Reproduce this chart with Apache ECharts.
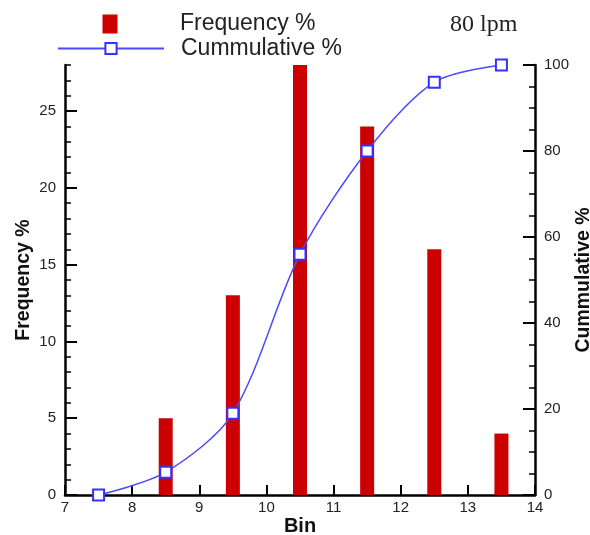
<!DOCTYPE html>
<html>
<head>
<meta charset="utf-8">
<script src="https://cdn.jsdelivr.net/npm/echarts@6/dist/echarts.min.js"></script>
<style>html,body{margin:0;padding:0;background:#fff}#c{width:590px;height:535px}</style>
</head>
<body>
<div id="c"></div>
<script>
var binCenters = [8.5, 9.5, 10.5, 11.5, 12.5, 13.5];
var frequency = [5, 13, 28, 24, 16, 4];
var cumBins = [7.5, 8.5, 9.5, 10.5, 11.5, 12.5, 13.5];
var cumulative = [0, 5.3, 19, 56, 80, 96, 100];
var xTicks = [7, 8, 9, 10, 11, 12, 13, 14];
var leftMajorTicks = [0, 5, 10, 15, 20, 25];
var rightMajorTicks = [0, 20, 40, 60, 80, 100];

var chart = echarts.init(document.getElementById('c'), null, {renderer: 'canvas'});
var axisFont = {fontFamily: 'Liberation Sans, Arial, sans-serif', fontSize: 15, color: '#222'};
var nameFont = {fontFamily: 'Liberation Sans, Arial, sans-serif', fontSize: 19.5, fontWeight: 'bold', color: '#111'};
var legendFont = {fontFamily: 'Liberation Sans, Arial, sans-serif', fontSize: 23, color: '#222', padding: [0, 0, 0, 12]};
var leftMinor = [];
for (var i = 0; i <= 28; i++) leftMinor.push(i);

chart.setOption({
  animation: false,
  title: {
    text: '80 lpm', left: 445, top: 8,
    textStyle: {fontFamily: 'Liberation Serif, Times New Roman, serif', fontSize: 24, fontWeight: 'normal', color: '#222'}
  },
  legend: [
    {
      orient: 'vertical', left: 52, top: 7.5, padding: 5, itemWidth: 106, itemHeight: 19,
      textStyle: legendFont,
      data: [{name: 'Frequency %', icon: 'path://M0,0L0,0.01M45.5,0H60.5V19H45.5ZM106,19L106,18.99'}]
    },
    {
      orient: 'vertical', left: 52, top: 32, padding: 5, itemWidth: 106, itemHeight: 14,
      textStyle: legendFont,
      data: [{name: 'Cummulative %'}]
    }
  ],
  grid: {left: 65, right: 55, top: 65, bottom: 40, outerBoundsMode: 'none', containLabel: false},
  xAxis: {
    type: 'value', min: 7, max: 14, interval: 1,
    name: 'Bin', nameLocation: 'middle', nameGap: 21, nameMoveOverlap: false,
    nameTextStyle: Object.assign({}, nameFont, {fontSize: 20}),
    axisLine: {show: true, onZero: false, lineStyle: {color: '#000', width: 2.5}},
    axisTick: {show: true, inside: true, length: 10, lineStyle: {color: '#000', width: 2}, customValues: xTicks},
    axisLabel: Object.assign({margin: 5, customValues: xTicks}, axisFont),
    splitLine: {show: false}
  },
  yAxis: [
    {
      type: 'value', position: 'left', min: 0, max: 28, interval: 5,
      name: 'Frequency %', nameLocation: 'middle', nameGap: 31, nameRotate: 90, nameMoveOverlap: false,
      nameTextStyle: nameFont,
      axisLine: {show: true, lineStyle: {color: '#000', width: 2.5}},
      axisTick: {show: true, inside: true, length: 12, lineStyle: {color: '#000', width: 2}, customValues: leftMajorTicks},
      axisLabel: Object.assign({margin: 9, customValues: leftMajorTicks}, axisFont),
      splitLine: {show: false}
    },
    {
      type: 'value', position: 'left', min: 0, max: 28, interval: 1,
      axisLine: {show: false},
      axisTick: {show: true, inside: true, length: 6, lineStyle: {color: '#000', width: 1.5}, customValues: leftMinor},
      axisLabel: {show: false},
      splitLine: {show: false}
    },
    {
      type: 'value', position: 'right', min: 0, max: 100, interval: 20,
      name: 'Cummulative %', nameLocation: 'middle', nameGap: 39, nameRotate: 90, nameMoveOverlap: false,
      nameTextStyle: nameFont,
      axisLine: {show: true, lineStyle: {color: '#000', width: 2.5}},
      axisTick: {show: true, inside: true, length: 12, lineStyle: {color: '#000', width: 2}},
      minorTick: {show: true, splitNumber: 4, length: 6, lineStyle: {color: '#000', width: 1.5}},
      axisLabel: Object.assign({margin: 9, customValues: rightMajorTicks}, axisFont),
      splitLine: {show: false}
    }
  ],
  series: [
    {
      name: 'Frequency %', type: 'bar', xAxisIndex: 0, yAxisIndex: 0, barWidth: 14,
      itemStyle: {color: '#cc0000'},
      data: binCenters.map(function (x, i) { return [x, frequency[i]]; })
    },
    {
      name: 'Cummulative %', type: 'line', xAxisIndex: 0, yAxisIndex: 2,
      symbol: 'emptyRect', symbolSize: 11, smooth: 0.3,
      lineStyle: {color: '#4a4aff', width: 1.5},
      itemStyle: {color: '#3333ff', borderColor: '#3333ff', borderWidth: 1.5},
      data: cumBins.map(function (x, i) { return [x, cumulative[i]]; })
    }
  ]
});
</script>
</body>
</html>
